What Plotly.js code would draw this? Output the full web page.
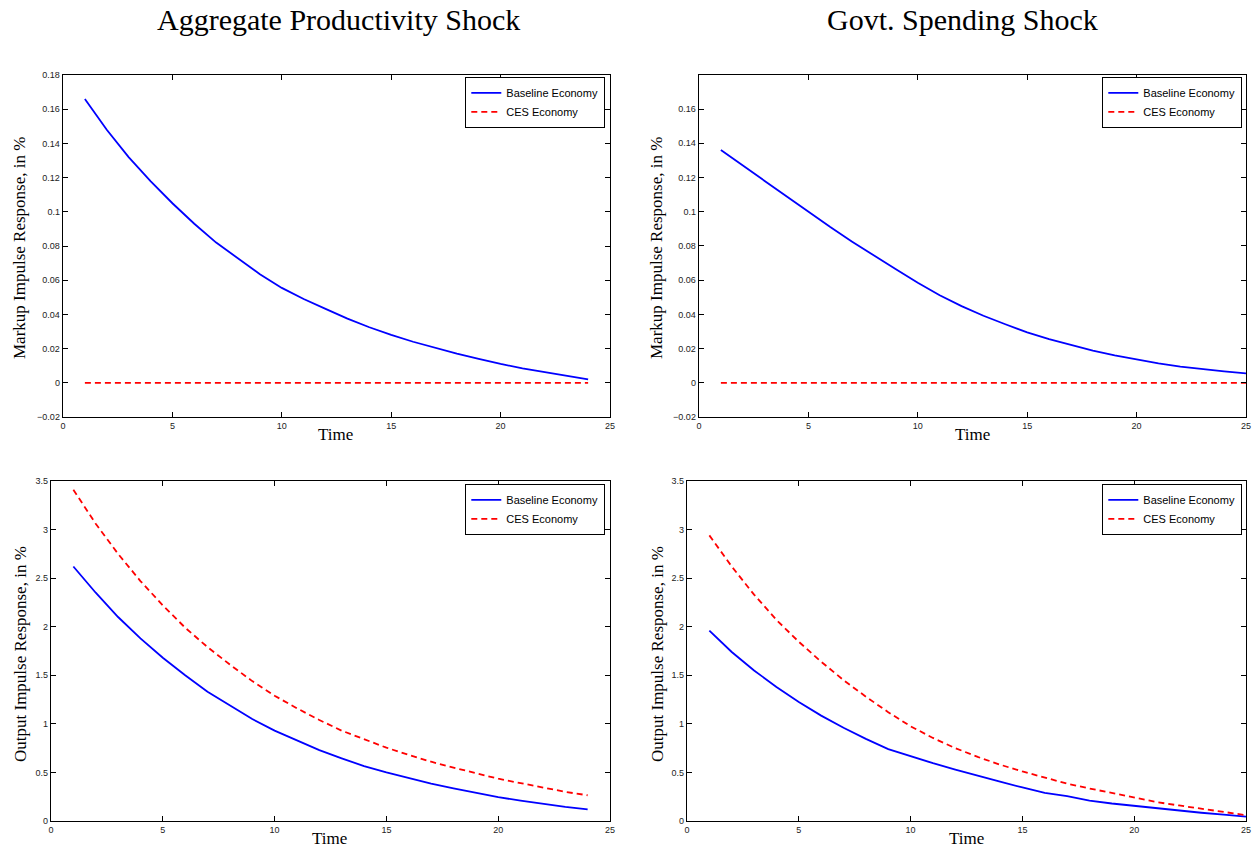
<!DOCTYPE html>
<html>
<head>
<meta charset="utf-8">
<script src="https://cdn.plot.ly/plotly-3.0.1.min.js"></script>
<style>html,body{margin:0;padding:0;background:#fff;}#chart{width:1259px;height:851px;}</style>
</head>
<body>
<div id="chart"></div>
<script>
// ---------- data ----------
const periodsProd = [1,2,3,4,5,6,7,8,9,10,11,12,13,14,15,16,17,18,19,20,21,22,23,24];
const periodsGov  = [1,2,3,4,5,6,7,8,9,10,11,12,13,14,15,16,17,18,19,20,21,22,23,24,25];

const markupProdBaseline = [0.166,0.148,0.132,0.118,0.105,0.093,0.082,0.0725,0.0635,0.0555,0.049,0.0432,0.0375,0.0325,0.028,0.024,0.0205,0.017,0.014,0.011,0.0085,0.0062,0.004,0.002];
const markupProdCES      = [0,0,0,0,0,0,0,0,0,0,0,0,0,0,0,0,0,0,0,0,0,0,0,0];

const markupGovBaseline = [0.136,0.127,0.118,0.1085,0.0995,0.091,0.0825,0.0742,0.0663,0.0585,0.0512,0.0448,0.0392,0.0342,0.0295,0.0255,0.022,0.0188,0.016,0.0135,0.0113,0.0095,0.008,0.0067,0.0055];
const markupGovCES      = [0,0,0,0,0,0,0,0,0,0,0,0,0,0,0,0,0,0,0,0,0,0,0,0,0];

const outputProdBaseline = [2.62,2.35,2.10,1.88,1.68,1.50,1.33,1.19,1.05,0.93,0.83,0.73,0.645,0.565,0.50,0.44,0.385,0.335,0.29,0.245,0.21,0.175,0.145,0.12];
const outputProdCES      = [3.41,3.06,2.75,2.47,2.22,1.99,1.79,1.61,1.44,1.29,1.16,1.04,0.93,0.84,0.755,0.68,0.61,0.55,0.49,0.435,0.39,0.345,0.30,0.265];

const outputGovBaseline = [1.96,1.74,1.55,1.38,1.225,1.085,0.96,0.845,0.74,0.665,0.595,0.53,0.465,0.405,0.345,0.29,0.255,0.21,0.18,0.155,0.13,0.105,0.085,0.065,0.045];
const outputGovCES      = [2.94,2.62,2.33,2.07,1.845,1.64,1.45,1.28,1.12,0.975,0.855,0.75,0.66,0.58,0.51,0.445,0.385,0.335,0.29,0.24,0.195,0.16,0.125,0.09,0.06];

const xTickVals = [0,5,10,15,20,25];
const xTickText = ["0","5","10","15","20","25"];
const markupTickVals = [-0.02,0,0.02,0.04,0.06,0.08,0.1,0.12,0.14,0.16,0.18];
const markupTickText = ["\u22120.02","0","0.02","0.04","0.06","0.08","0.1","0.12","0.14","0.16","0.18"];
const outputTickVals = [0,0.5,1,1.5,2,2.5,3,3.5];
const outputTickText = ["0","0.5","1","1.5","2","2.5","3","3.5"];

const panelTitles = ["Aggregate Productivity Shock","Govt. Spending Shock"];
const yTitles = ["Markup Impulse Response, in %","Output Impulse Response, in %"];
const xTitle = "Time";
const seriesNames = ["Baseline Economy","CES Economy"];

// ---------- layout helpers ----------
const W = 1259, H = 851;
const px = v => v / W;
const py = v => (H - v) / H;

const blue = {color:'#0000ff', width:1.8};
const red  = {color:'#ff0000', width:1.8, dash:'6px,4px'};

function mk(x, y, name, line, ax, leg){
  return {x:x, y:y, name:name, type:'scatter', mode:'lines', line:line,
          xaxis:'x'+ax, yaxis:'y'+ax, legend:leg, showlegend:true, hoverinfo:'skip'};
}

const traces = [
  mk(periodsProd, markupProdBaseline, seriesNames[0], blue, '', 'legend'),
  mk(periodsProd, markupProdCES, seriesNames[1], red, '', 'legend'),
  mk(periodsGov, markupGovBaseline, seriesNames[0], blue, '2', 'legend2'),
  mk(periodsGov, markupGovCES, seriesNames[1], red, '2', 'legend2'),
  mk(periodsProd, outputProdBaseline, seriesNames[0], blue, '3', 'legend3'),
  mk(periodsProd, outputProdCES, seriesNames[1], red, '3', 'legend3'),
  mk(periodsGov, outputGovBaseline, seriesNames[0], blue, '4', 'legend4'),
  mk(periodsGov, outputGovCES, seriesNames[1], red, '4', 'legend4')
];

const tickFont = {family:'Liberation Sans, Arial, sans-serif', size:9, color:'#222'};
function xax(l, r, anchor){
  return {domain:[px(l), px(r)], anchor:anchor, range:[0,25], tickmode:'array',
          tickvals:xTickVals, ticktext:xTickText, ticks:'inside', ticklen:5, tickcolor:'#000',
          showline:true, linecolor:'#000', linewidth:1.3, mirror:'ticks', showgrid:false,
          zeroline:false, tickfont:tickFont, fixedrange:true};
}
function yax(t, b, anchor, range, tv, tt){
  return {domain:[py(b), py(t)], anchor:anchor, range:range, tickmode:'array',
          tickvals:tv, ticktext:tt, ticks:'inside', ticklen:5, tickcolor:'#000',
          showline:true, linecolor:'#000', linewidth:1.3, mirror:'ticks', showgrid:false,
          zeroline:false, tickfont:tickFont, fixedrange:true};
}
function leg(right, top){
  return {x:px(right), xanchor:'right', y:py(top), yanchor:'top', bgcolor:'#fff',
          bordercolor:'#000', borderwidth:1.3, tracegroupgap:0,
          font:{family:'Liberation Sans, Arial, sans-serif', size:11, color:'#000'}};
}

const serif = 'Liberation Serif, Times New Roman, serif';
function ann(text, x, y, size, angle){
  return {text:text, x:px(x), y:py(y), xref:'paper', yref:'paper', showarrow:false,
          xanchor:'center', yanchor:'middle', textangle:angle||0,
          font:{family:serif, size:size, color:'#000'}};
}

const layout = {
  width:W, height:H, margin:{l:0,r:0,t:0,b:0},
  paper_bgcolor:'#fff', plot_bgcolor:'#fff',
  xaxis:  xax(63, 610, 'y'),
  yaxis:  yax(75, 417, 'x', [-0.02,0.18], markupTickVals, markupTickText),
  xaxis2: xax(699, 1246, 'y2'),
  yaxis2: yax(75, 417, 'x2', [-0.02,0.1799], markupTickVals.slice(0,10), markupTickText.slice(0,10)),
  xaxis3: xax(51, 610, 'y3'),
  yaxis3: yax(481, 821, 'x3', [0,3.5], outputTickVals, outputTickText),
  xaxis4: xax(687, 1246, 'y4'),
  yaxis4: yax(481, 821, 'x4', [0,3.5], outputTickVals, outputTickText),
  legend:  leg(605, 77),
  legend2: leg(1242, 77),
  legend3: leg(605, 484),
  legend4: leg(1242, 484),
  annotations:[
    ann(panelTitles[0], 338, 19, 30),
    ann(panelTitles[1], 963, 19, 30),
    ann(yTitles[0], 20, 248, 17, -90),
    ann(yTitles[0], 657, 248, 17, -90),
    ann(yTitles[1], 20, 654, 17, -90),
    ann(yTitles[1], 657, 654, 17, -90),
    ann(xTitle, 336, 435, 17),
    ann(xTitle, 972, 435, 17),
    ann(xTitle, 330, 838, 17),
    ann(xTitle, 966, 838, 17)
  ]
};

Plotly.newPlot('chart', traces, layout, {displayModeBar:false, staticPlot:true});
</script>
</body>
</html>
